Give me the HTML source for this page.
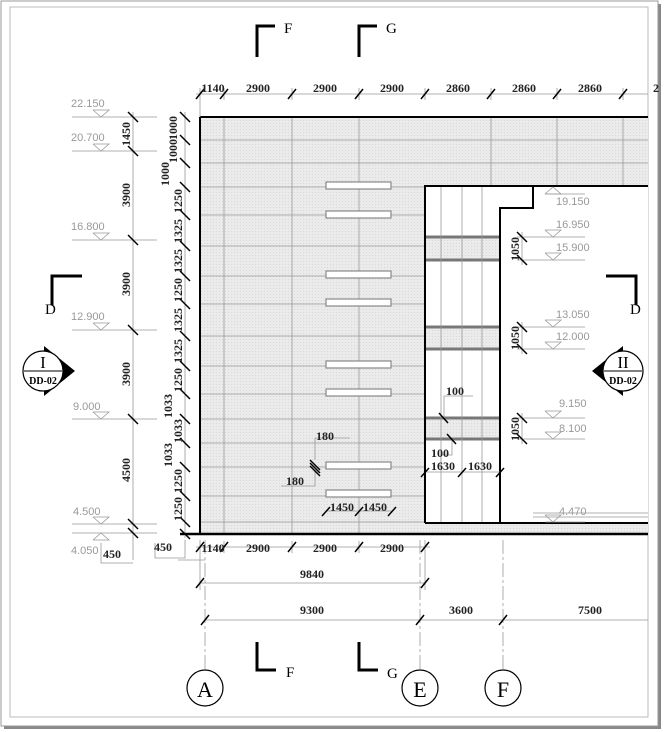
<!DOCTYPE html>
<html><head><meta charset="utf-8"><style>
html,body{margin:0;padding:0;background:#fff;}
svg{display:block;font-family:"Liberation Serif",serif;}
.d{font-size:12px;font-weight:bold;fill:#222;}
.e{font-family:"Liberation Sans",sans-serif;font-size:11px;fill:#999;}
</style></head><body>
<svg width="664" height="732" viewBox="0 0 664 732" xmlns="http://www.w3.org/2000/svg">
<defs>
<pattern id="g" width="3" height="3" patternUnits="userSpaceOnUse"><rect width="3" height="3" fill="#ebebeb"/><rect width="1" height="1" fill="#d8d8d8"/></pattern>
</defs>
<rect x="4" y="4" width="657" height="725" fill="#888"/>
<rect x="1" y="1" width="657" height="725" fill="#fff" stroke="#999" stroke-width="1"/>
<rect x="10" y="7" width="638" height="710" fill="#fff" stroke="#bbb" stroke-width="1"/>

<rect x="200" y="117" width="448" height="416" fill="url(#g)"/>
<rect x="425" y="186" width="223" height="337" fill="#fff"/>
<rect x="425" y="237" width="75" height="23" fill="url(#g)"/>
<rect x="425" y="327" width="75" height="22" fill="url(#g)"/>
<rect x="425" y="418" width="75" height="21" fill="url(#g)"/>
<g stroke="#777" stroke-width="3">
<line x1="425" y1="237" x2="500" y2="237"/><line x1="425" y1="260" x2="500" y2="260"/>
<line x1="425" y1="327" x2="500" y2="327"/><line x1="425" y1="349" x2="500" y2="349"/>
<line x1="425" y1="418" x2="500" y2="418"/><line x1="425" y1="439" x2="500" y2="439"/>
</g>
<g stroke="#999" stroke-width="0.8">
<line x1="200" y1="140" x2="648" y2="140"/><line x1="200" y1="163" x2="648" y2="163"/>
<line x1="200" y1="187" x2="425" y2="187"/><line x1="200" y1="215" x2="425" y2="215"/>
<line x1="200" y1="246" x2="425" y2="246"/><line x1="200" y1="276" x2="425" y2="276"/>
<line x1="200" y1="304" x2="425" y2="304"/><line x1="200" y1="336" x2="425" y2="336"/>
<line x1="200" y1="366" x2="425" y2="366"/><line x1="200" y1="394" x2="425" y2="394"/>
<line x1="200" y1="419" x2="425" y2="419"/><line x1="200" y1="443" x2="425" y2="443"/>
<line x1="200" y1="467" x2="425" y2="467"/><line x1="200" y1="496" x2="425" y2="496"/>
<line x1="200" y1="522" x2="425" y2="522"/>
<line x1="224" y1="117" x2="224" y2="533"/><line x1="292" y1="117" x2="292" y2="533"/>
<line x1="359" y1="117" x2="359" y2="533"/>
<line x1="491" y1="117" x2="491" y2="186"/><line x1="557" y1="117" x2="557" y2="186"/><line x1="623" y1="117" x2="623" y2="186"/>
<line x1="441" y1="186" x2="441" y2="522"/><line x1="462" y1="186" x2="462" y2="522"/><line x1="482" y1="186" x2="482" y2="522"/>
<line x1="533" y1="513" x2="648" y2="513"/><line x1="533" y1="517" x2="648" y2="517"/>
</g>
<g fill="#fff" stroke="#888" stroke-width="1.2">
<rect x="326" y="182" width="65" height="7"/><rect x="326" y="211" width="65" height="7"/>
<rect x="326" y="271" width="65" height="7"/><rect x="326" y="299" width="65" height="7"/>
<rect x="326" y="361" width="65" height="7"/><rect x="326" y="389" width="65" height="7"/>
<rect x="326" y="462" width="65" height="7"/><rect x="326" y="490" width="65" height="7"/>
</g>
<g stroke="#000" stroke-width="2" fill="none">
<line x1="200" y1="117" x2="648" y2="117"/>
<line x1="200" y1="117" x2="200" y2="533"/>
<polyline points="425,523 425,186 648,186"/>
<polyline points="533,186 533,208 500,208 500,523"/>
<line x1="425" y1="523" x2="648" y2="523"/>
<line x1="180" y1="534" x2="648" y2="534" stroke-width="2.5"/>
</g>

<g stroke="#999" stroke-width="0.8">
<line x1="196" y1="94" x2="648" y2="94"/>
<line x1="200" y1="88" x2="200" y2="117"/><line x1="224" y1="88" x2="224" y2="100"/>
<line x1="292" y1="88" x2="292" y2="100"/><line x1="359" y1="88" x2="359" y2="100"/>
<line x1="425" y1="88" x2="425" y2="100"/><line x1="491" y1="88" x2="491" y2="100"/>
<line x1="557" y1="88" x2="557" y2="100"/><line x1="623" y1="88" x2="623" y2="100"/>
</g>
<g stroke="#000" stroke-width="1.5">
<line x1="196" y1="99" x2="204" y2="89"/><line x1="220" y1="99" x2="228" y2="89"/>
<line x1="288" y1="99" x2="296" y2="89"/><line x1="355" y1="99" x2="363" y2="89"/>
<line x1="421" y1="99" x2="429" y2="89"/><line x1="487" y1="99" x2="495" y2="89"/>
<line x1="553" y1="99" x2="561" y2="89"/><line x1="619" y1="99" x2="627" y2="89"/>
</g>
<g class="d" text-anchor="middle">
<text x="213" y="92">1140</text><text x="258" y="92">2900</text><text x="325" y="92">2900</text>
<text x="392" y="92">2900</text><text x="458" y="92">2860</text><text x="524" y="92">2860</text>
<text x="590" y="92">2860</text><text x="656" y="92">2</text>
</g>

<g stroke="#999" stroke-width="0.8">
<line x1="185" y1="112" x2="185" y2="538"/>
<line x1="133" y1="112" x2="133" y2="560"/>
<line x1="72" y1="117" x2="157" y2="117"/><line x1="72" y1="151" x2="157" y2="151"/>
<line x1="72" y1="240" x2="157" y2="240"/><line x1="72" y1="330" x2="157" y2="330"/>
<line x1="72" y1="419" x2="157" y2="419"/><line x1="72" y1="524" x2="157" y2="524"/>
<line x1="72" y1="533" x2="157" y2="533"/>
</g>
<g stroke="#000" stroke-width="1.5">
<line x1="180" y1="112" x2="190" y2="122"/><line x1="180" y1="135" x2="190" y2="145"/>
<line x1="180" y1="158" x2="190" y2="168"/><line x1="180" y1="182" x2="190" y2="192"/>
<line x1="180" y1="210" x2="190" y2="220"/><line x1="180" y1="241" x2="190" y2="251"/>
<line x1="180" y1="271" x2="190" y2="281"/><line x1="180" y1="299" x2="190" y2="309"/>
<line x1="180" y1="331" x2="190" y2="341"/><line x1="180" y1="361" x2="190" y2="371"/>
<line x1="180" y1="389" x2="190" y2="399"/><line x1="180" y1="414" x2="190" y2="424"/>
<line x1="180" y1="438" x2="190" y2="448"/><line x1="180" y1="462" x2="190" y2="472"/>
<line x1="180" y1="491" x2="190" y2="501"/><line x1="180" y1="517" x2="190" y2="527"/>
<line x1="180" y1="529" x2="190" y2="539"/>
<line x1="128" y1="112" x2="138" y2="122"/><line x1="128" y1="146" x2="138" y2="156"/>
<line x1="128" y1="235" x2="138" y2="245"/><line x1="128" y1="325" x2="138" y2="335"/>
<line x1="128" y1="414" x2="138" y2="424"/><line x1="128" y1="519" x2="138" y2="529"/>
<line x1="128" y1="528" x2="138" y2="538"/>
</g>
<g class="d" text-anchor="middle">
<g transform="translate(177,128) rotate(-90)"><text>1000</text></g>
<g transform="translate(177,151) rotate(-90)"><text>1000</text></g>
<g transform="translate(169,174) rotate(-90)"><text>1000</text></g>
<g transform="translate(182,201) rotate(-90)"><text>1250</text></g>
<g transform="translate(182,231) rotate(-90)"><text>1325</text></g>
<g transform="translate(182,261) rotate(-90)"><text>1325</text></g>
<g transform="translate(182,290) rotate(-90)"><text>1250</text></g>
<g transform="translate(182,320) rotate(-90)"><text>1325</text></g>
<g transform="translate(182,351) rotate(-90)"><text>1325</text></g>
<g transform="translate(182,380) rotate(-90)"><text>1250</text></g>
<g transform="translate(172,406) rotate(-90)"><text>1033</text></g>
<g transform="translate(182,431) rotate(-90)"><text>1033</text></g>
<g transform="translate(172,455) rotate(-90)"><text>1033</text></g>
<g transform="translate(182,481) rotate(-90)"><text>1250</text></g>
<g transform="translate(182,509) rotate(-90)"><text>1250</text></g>
<g transform="translate(130,134) rotate(-90)"><text>1450</text></g>
<g transform="translate(130,195) rotate(-90)"><text>3900</text></g>
<g transform="translate(130,284) rotate(-90)"><text>3900</text></g>
<g transform="translate(130,374) rotate(-90)"><text>3900</text></g>
<g transform="translate(130,470) rotate(-90)"><text>4500</text></g>
</g>
<g class="e">
<text x="71" y="107">22.150</text><text x="71" y="141">20.700</text>
<text x="71" y="230">16.800</text><text x="71" y="320">12.900</text>
<text x="73" y="410">9.000</text><text x="73" y="515">4.500</text><text x="71" y="554">4.050</text>
</g>
<g fill="none" stroke="#999" stroke-width="0.8">
<polyline points="93,110 109,110 101,117 93,110"/><polyline points="93,144 109,144 101,151 93,144"/>
<polyline points="93,233 109,233 101,240 93,233"/><polyline points="93,323 109,323 101,330 93,323"/>
<polyline points="93,412 109,412 101,419 93,412"/><polyline points="93,517 109,517 101,524 93,517"/>
<polyline points="93,540 109,540 101,533 93,540"/>
<polyline points="101,543 101,563 133,563"/><polyline points="155,543 155,558 185,558 185,540"/>
<line x1="178" y1="560" x2="205" y2="560"/>
</g>
<g class="d"><text x="103" y="558">450</text><text x="154" y="551">450</text></g>

<g stroke="#999" stroke-width="0.8" fill="none">
<line x1="517" y1="237" x2="585" y2="237"/><line x1="517" y1="260" x2="585" y2="260"/>
<line x1="517" y1="327" x2="585" y2="327"/><line x1="517" y1="349" x2="585" y2="349"/>
<line x1="517" y1="418" x2="585" y2="418"/><line x1="517" y1="439" x2="585" y2="439"/>
<line x1="545" y1="194" x2="585" y2="194"/><line x1="545" y1="522" x2="585" y2="522"/>
<line x1="522" y1="232" x2="522" y2="265"/><line x1="522" y1="322" x2="522" y2="354"/><line x1="522" y1="413" x2="522" y2="444"/>
<polyline points="545,194 561,194 553,187 545,194"/>
<polyline points="545,230 561,230 553,237 545,230"/><polyline points="545,253 561,253 553,260 545,253"/>
<polyline points="545,320 561,320 553,327 545,320"/><polyline points="545,342 561,342 553,349 545,342"/>
<polyline points="545,411 561,411 553,418 545,411"/><polyline points="545,432 561,432 553,439 545,432"/>
<polyline points="545,515 561,515 553,522 545,515"/>
</g>
<g class="e">
<text x="556" y="205">19.150</text><text x="556" y="228">16.950</text><text x="556" y="251">15.900</text>
<text x="556" y="318">13.050</text><text x="556" y="340">12.000</text><text x="559" y="407">9.150</text>
<text x="559" y="432">8.100</text><text x="559" y="515">4.470</text>
</g>
<g stroke="#000" stroke-width="1.5">
<line x1="517" y1="232" x2="527" y2="242"/><line x1="517" y1="255" x2="527" y2="265"/>
<line x1="517" y1="322" x2="527" y2="332"/><line x1="517" y1="344" x2="527" y2="354"/>
<line x1="517" y1="413" x2="527" y2="423"/><line x1="517" y1="434" x2="527" y2="444"/>
</g>
<g class="d" text-anchor="middle">
<g transform="translate(519,249) rotate(-90)"><text>1050</text></g>
<g transform="translate(519,338) rotate(-90)"><text>1050</text></g>
<g transform="translate(519,429) rotate(-90)"><text>1050</text></g>
</g>

<g stroke="#999" stroke-width="0.8" fill="none">
<polyline points="350,438 315,438 315,460"/><polyline points="281,486 315,486 315,470"/>
<line x1="326" y1="511" x2="392" y2="511"/>
<polyline points="473,396 444,396 444,420"/><polyline points="441,470 441,455 452,455 452,440"/>
<line x1="425" y1="472" x2="500" y2="472"/>
</g>
<g stroke="#000" stroke-width="1.5">
<line x1="310" y1="460" x2="320" y2="470"/><line x1="310" y1="463" x2="320" y2="473"/><line x1="310" y1="466" x2="320" y2="476"/>
<line x1="322" y1="516" x2="330" y2="507"/><line x1="355" y1="516" x2="363" y2="507"/><line x1="388" y1="516" x2="396" y2="507"/>
<line x1="439" y1="413" x2="448" y2="423"/><line x1="447" y1="434" x2="456" y2="444"/>
<line x1="421" y1="477" x2="429" y2="468"/><line x1="458" y1="477" x2="466" y2="468"/><line x1="496" y1="477" x2="504" y2="468"/>
</g>
<g class="d">
<text x="316" y="440">180</text><text x="286" y="485">180</text>
<text x="330" y="511">1450</text><text x="363" y="511">1450</text>
<text x="446" y="395">100</text><text x="431" y="457">100</text>
<text x="431" y="470">1630</text><text x="468" y="470">1630</text>
</g>

<g stroke="#999" stroke-width="0.8" fill="none">
<line x1="196" y1="547" x2="430" y2="547"/>
<line x1="224" y1="541" x2="224" y2="553"/><line x1="292" y1="541" x2="292" y2="553"/><line x1="359" y1="541" x2="359" y2="553"/>
<line x1="200" y1="540" x2="200" y2="590"/><line x1="425" y1="540" x2="425" y2="590"/>
<line x1="200" y1="583" x2="425" y2="583"/>
<line x1="205" y1="620" x2="648" y2="620"/>
<line x1="205" y1="540" x2="205" y2="671" stroke-dasharray="14,3,3,3"/>
<line x1="420" y1="540" x2="420" y2="671" stroke-dasharray="14,3,3,3"/>
<line x1="503" y1="540" x2="503" y2="671" stroke-dasharray="14,3,3,3"/>
</g>
<g stroke="#000" stroke-width="1.5">
<line x1="196" y1="552" x2="204" y2="542"/><line x1="220" y1="552" x2="228" y2="542"/>
<line x1="288" y1="552" x2="296" y2="542"/><line x1="355" y1="552" x2="363" y2="542"/><line x1="421" y1="552" x2="429" y2="542"/>
<line x1="196" y1="588" x2="204" y2="578"/><line x1="421" y1="588" x2="429" y2="578"/>
<line x1="201" y1="625" x2="209" y2="615"/><line x1="416" y1="625" x2="424" y2="615"/><line x1="499" y1="625" x2="507" y2="615"/>
</g>
<g class="d" text-anchor="middle">
<text x="213" y="552">1140</text><text x="258" y="552">2900</text><text x="325" y="552">2900</text><text x="392" y="552">2900</text>
<text x="312" y="578">9840</text><text x="312" y="614">9300</text><text x="461" y="614">3600</text><text x="590" y="614">7500</text>
</g>

<g fill="#fff" stroke="#000" stroke-width="1.2">
<circle cx="205" cy="688" r="18"/><circle cx="420" cy="688" r="18"/><circle cx="503" cy="688" r="18"/>
</g>
<g font-size="22" text-anchor="middle" fill="#000">
<text x="205" y="697">A</text><text x="420" y="697">E</text><text x="503" y="697">F</text>
</g>

<g stroke="#000" stroke-width="3" fill="none">
<polyline points="275,26 257,26 257,57"/><polyline points="377,26 359,26 359,57"/>
<polyline points="257,642 257,670 276,670"/><polyline points="359,642 359,670 378,670"/>
<polyline points="82,276 52,276 52,305"/><polyline points="606,276 636,276 636,305"/>
</g>
<g font-size="15" fill="#000">
<text x="284" y="33">F</text><text x="386" y="33">G</text>
<text x="286" y="677">F</text><text x="387" y="678">G</text>
<text x="45" y="314">D</text><text x="630" y="314">D</text>
</g>

<polygon points="44,346 75,371 44,396" fill="#000"/>
<circle cx="43" cy="371" r="20" fill="#fff" stroke="#000" stroke-width="1.2"/>
<line x1="24" y1="371" x2="62" y2="371" stroke="#000" stroke-width="1"/>
<text x="43" y="368" font-size="17" text-anchor="middle">I</text>
<text x="43" y="384" font-size="10" text-anchor="middle" font-weight="bold">DD-02</text>
<polygon points="623,346 592,371 623,396" fill="#000"/>
<circle cx="623" cy="371" r="20" fill="#fff" stroke="#000" stroke-width="1.2"/>
<line x1="604" y1="371" x2="642" y2="371" stroke="#000" stroke-width="1"/>
<text x="623" y="368" font-size="17" text-anchor="middle">II</text>
<text x="623" y="384" font-size="10" text-anchor="middle" font-weight="bold">DD-02</text>
</svg>
</body></html>
